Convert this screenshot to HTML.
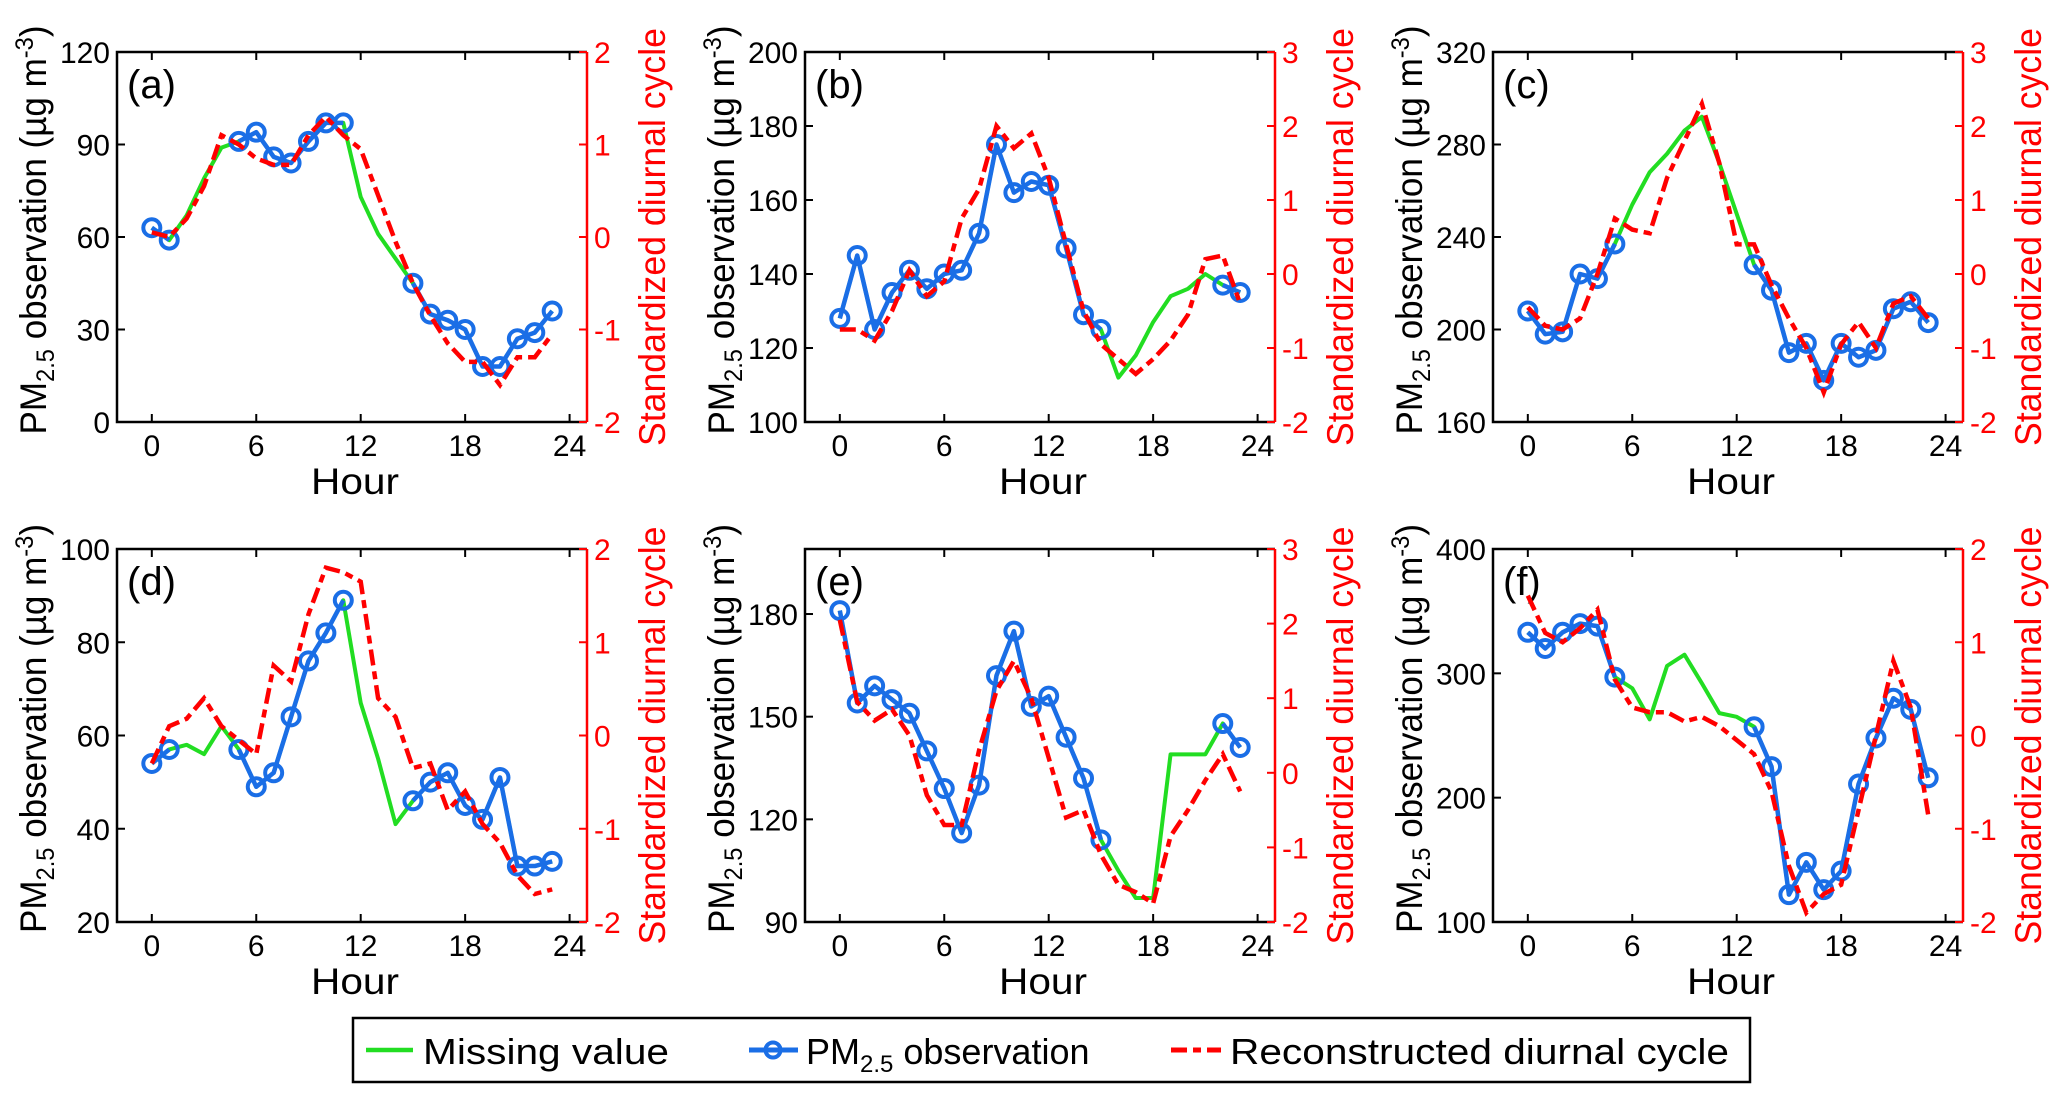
<!DOCTYPE html>
<html><head><meta charset="utf-8">
<style>
html,body{margin:0;padding:0;background:#fff;}
svg{display:block;font-family:"Liberation Sans",Arial,sans-serif;}
</style></head>
<body>
<svg id="fig" width="2067" height="1100" viewBox="0 0 2067 1100" xmlns="http://www.w3.org/2000/svg">
<rect width="2067" height="1100" fill="#fff"/>
<g>
<rect x="353" y="1018" width="1397" height="64" fill="#fff" stroke="#000" stroke-width="2.5"/>
<line x1="366" y1="1050" x2="413" y2="1050" stroke="#22dd22" stroke-width="4.5"/>
<text x="423" y="1064" font-size="36" textLength="246" lengthAdjust="spacingAndGlyphs">Missing value</text>
<line x1="749" y1="1050" x2="798" y2="1050" stroke="#1a6ee6" stroke-width="5"/>
<circle cx="773" cy="1050" r="7.5" fill="none" stroke="#1a6ee6" stroke-width="4"/>
<text x="806" y="1064" font-size="36">PM<tspan font-size="24" dy="8">2.5</tspan><tspan dy="-8"> observation</tspan></text>
<line x1="1171" y1="1050" x2="1221" y2="1050" stroke="#ff0000" stroke-width="5" stroke-dasharray="16 6 8 6"/>
<text x="1230" y="1064" font-size="36" textLength="499" lengthAdjust="spacingAndGlyphs">Reconstructed diurnal cycle</text>
</g>
</svg>
<script>
const hours = [0,1,2,3,4,5,6,7,8,9,10,11,12,13,14,15,16,17,18,19,20,21,22,23];
const xTicks = [0,6,12,18,24];
const N = null;

// (a)
const obsA = [63,59,N,N,N,91,94,86,84,91,97,97,N,N,N,45,35,33,30,18,18,27,29,36];
const fillA = [63,59,67,79,89,91,94,86,84,91,97,97,73,61,53,45,35,33,30,18,18,27,29,36];
const recA = [0.05,0,0.2,0.55,1.1,1.0,0.85,0.78,0.78,1.1,1.3,1.1,0.95,0.45,-0.05,-0.5,-0.85,-1.15,-1.35,-1.35,-1.6,-1.3,-1.3,-1.05];
const yTicksA = [0,30,60,90,120];
const rTicksA = [-2,-1,0,1,2];
// (b)
const obsB = [128,145,125,135,141,136,140,141,151,175,162,165,164,147,129,125,N,N,N,N,N,N,137,135];
const fillB = [128,145,125,135,141,136,140,141,151,175,162,165,164,147,129,125,112,118,127,134,136,140,137,135];
const recB = [-0.75,-0.75,-0.9,-0.5,0.05,-0.3,-0.1,0.75,1.15,2.0,1.7,1.9,1.3,0.4,-0.5,-0.95,-1.15,-1.35,-1.15,-0.9,-0.55,0.2,0.25,-0.4];
const yTicksB = [100,120,140,160,180,200];
const rTicksB = [-2,-1,0,1,2,3];
// (c)
const obsC = [208,198,199,224,222,237,N,N,N,N,N,N,N,228,217,190,194,178,194,188,191,209,212,203];
const fillC = [208,198,199,224,222,237,254,268,276,286,292,272,250,228,217,190,194,178,194,188,191,209,212,203];
const recC = [-0.45,-0.7,-0.75,-0.6,0.0,0.75,0.6,0.55,1.3,1.8,2.3,1.5,0.4,0.4,-0.15,-0.6,-1.0,-1.6,-0.95,-0.65,-1.0,-0.4,-0.3,-0.6];
const yTicksC = [160,200,240,280,320];
const rTicksC = [-2,-1,0,1,2,3];
// (d)
const obsD = [54,57,N,N,N,57,49,52,64,76,82,89,N,N,N,46,50,52,45,42,51,32,32,33];
const fillD = [54,57,58,56,62,57,49,52,64,76,82,89,67,55,41,46,50,52,45,42,51,32,32,33];
const recD = [-0.3,0.1,0.18,0.4,0.1,-0.05,-0.2,0.75,0.58,1.3,1.8,1.75,1.65,0.4,0.2,-0.35,-0.3,-0.8,-0.6,-0.95,-1.15,-1.5,-1.7,-1.65];
const yTicksD = [20,40,60,80,100];
const rTicksD = [-2,-1,0,1,2];
// (e)
const obsE = [181,154,159,155,151,140,129,116,130,162,175,153,156,144,132,114,N,N,N,N,N,N,148,141];
const fillE = [181,154,159,155,151,140,129,116,130,162,175,153,156,144,132,114,105,97,97,139,139,139,148,141];
const recE = [2.05,0.95,0.7,0.85,0.5,-0.3,-0.7,-0.7,0.3,1.1,1.5,1.0,0.2,-0.6,-0.5,-1.1,-1.5,-1.6,-1.75,-0.85,-0.5,-0.1,0.25,-0.25];
const yTicksE = [90,120,150,180];
const rTicksE = [-2,-1,0,1,2,3];
// (f)
const obsF = [333,320,333,340,338,297,N,N,N,N,N,N,N,257,225,122,148,126,141,211,248,280,271,216];
const fillF = [333,320,333,340,338,297,288,263,306,315,292,268,265,257,225,122,148,126,141,211,248,280,271,216];
const recF = [1.5,1.1,1.0,1.15,1.35,0.6,0.3,0.25,0.25,0.15,0.2,0.1,-0.05,-0.2,-0.6,-1.4,-1.9,-1.7,-1.6,-0.8,0.0,0.8,0.3,-0.85];
const yTicksF = [100,200,300,400];
const rTicksF = [-2,-1,0,1,2];

const panels = [
 {id:'a',L:117,T:52,H:370,y0:0,y1:120,r0:-2,r1:2,obs:obsA,fill:fillA,rec:recA,yt:yTicksA,rt:rTicksA},
 {id:'b',L:805,T:52,H:370,y0:100,y1:200,r0:-2,r1:3,obs:obsB,fill:fillB,rec:recB,yt:yTicksB,rt:rTicksB},
 {id:'c',L:1493,T:52,H:370,y0:160,y1:320,r0:-2,r1:3,obs:obsC,fill:fillC,rec:recC,yt:yTicksC,rt:rTicksC},
 {id:'d',L:117,T:549,H:373,y0:20,y1:100,r0:-2,r1:2,obs:obsD,fill:fillD,rec:recD,yt:yTicksD,rt:rTicksD},
 {id:'e',L:805,T:549,H:373,y0:90,y1:199,r0:-2,r1:3,obs:obsE,fill:fillE,rec:recE,yt:yTicksE,rt:rTicksE},
 {id:'f',L:1493,T:549,H:373,y0:100,y1:400,r0:-2,r1:2,obs:obsF,fill:fillF,rec:recF,yt:yTicksF,rt:rTicksF}
];
const W = 470, XMIN = -2, XMAX = 25;
const NS = 'http://www.w3.org/2000/svg';
const svg = document.getElementById('fig');
function mk(tag, attrs, parent){
  const e = document.createElementNS(NS, tag);
  for (const k in attrs) e.setAttribute(k, attrs[k]);
  parent.appendChild(e);
  return e;
}
const BLUE = '#1a6ee6', GREEN = '#22dd22', RED = '#ff0000';

panels.forEach(p => {
  const g = mk('g', {}, svg);
  
  
  const R = p.L + W, B = p.T + p.H;
  const sx = h => p.L + (h - XMIN) / (XMAX - XMIN) * W;
  const sy = v => B - (v - p.y0) / (p.y1 - p.y0) * p.H;
  const sr = v => B - (v - p.r0) / (p.r1 - p.r0) * p.H;

  mk('path', {d:`M${R},${p.T} H${p.L} V${B} H${R}`, fill:'none', stroke:'#000', 'stroke-width':2.5}, g);
  const rs = mk('line', {x1:R, y1:p.T, x2:R, y2:B, stroke:RED, 'stroke-width':2.5}, g);
  
  

  xTicks.forEach(t => {
    const x = sx(t);
    mk('line', {x1:x, y1:B, x2:x, y2:B-8, stroke:'#000', 'stroke-width':2}, g);
    mk('line', {x1:x, y1:p.T, x2:x, y2:p.T+8, stroke:'#000', 'stroke-width':2}, g);
    const tx = mk('text', {x:x, y:B+34, 'font-size':30, 'text-anchor':'middle'}, g);
    
    
    tx.textContent = t;
  });
  p.yt.forEach(t => {
    const y = sy(t);
    mk('line', {x1:p.L, y1:y, x2:p.L+8, y2:y, stroke:'#000', 'stroke-width':2}, g);
    const tx = mk('text', {x:p.L-7, y:y+11, 'font-size':30, 'text-anchor':'end'}, g);
    
    
    tx.textContent = t;
  });
  p.rt.forEach(t => {
    const y = sr(t);
    mk('line', {x1:R, y1:y, x2:R-8, y2:y, stroke:RED, 'stroke-width':2}, g);
    const tx = mk('text', {x:R+7, y:y+11, 'font-size':30, fill:RED}, g);
    
    
    tx.textContent = t;
  });
  const cy = p.T + p.H/2;
  const xt = mk('text', {x:p.L + W/2 + 3, y:B+72, 'font-size':37, 'text-anchor':'middle', textLength:88, lengthAdjust:'spacingAndGlyphs'}, g);
  
  
  xt.textContent = 'Hour';
  const ly = cy - 7;
  const yl = mk('text', {x:0, y:0, 'font-size':37, 'text-anchor':'middle', transform:`translate(${p.L-71},${ly}) rotate(-90)`, textLength:409, lengthAdjust:'spacingAndGlyphs'}, g);
  
  
  yl.innerHTML = 'PM<tspan font-size="25" dy="8">2.5</tspan><tspan dy="-8"> observation (µg m</tspan><tspan font-size="25" dy="-13">-3</tspan><tspan dy="13">)</tspan>';
  const rl = mk('text', {x:0, y:0, 'font-size':37, fill:RED, 'text-anchor':'middle', transform:`translate(${R+78},${cy}) rotate(-90)`, textLength:418, lengthAdjust:'spacingAndGlyphs'}, g);
  
  
  rl.textContent = 'Standardized diurnal cycle';
  const pl = mk('text', {x:p.L+10, y:p.T+46, 'font-size':40}, g);
  
  
  pl.textContent = '(' + p.id + ')';

  const gp = hours.map((h,i) => (i?'L':'M') + sx(h) + ',' + sy(p.fill[i])).join(' ');
  const gl = mk('path', {d:gp, fill:'none', stroke:GREEN, 'stroke-width':4, 'stroke-linejoin':'round'}, g);
  
  
  let d = '', pen = false;
  hours.forEach((h,i) => {
    const v = p.obs[i];
    if (v === null) { pen = false; return; }
    d += (pen ? 'L' : 'M') + sx(h) + ',' + sy(v) + ' ';
    pen = true;
  });
  const bl = mk('path', {d:d, fill:'none', stroke:BLUE, 'stroke-width':4.5, 'stroke-linejoin':'round'}, g);
  
  
  hours.forEach((h,i) => {
    const v = p.obs[i];
    if (v === null) return;
    const c = mk('circle', {cx:sx(h), cy:sy(v), r:8.5, fill:'none', stroke:BLUE, 'stroke-width':4}, g);
    
    
  });
  const rp = hours.map((h,i) => (i?'L':'M') + sx(h) + ',' + sr(p.rec[i])).join(' ');
  const rl2 = mk('path', {d:rp, fill:'none', stroke:RED, 'stroke-width':4.5, 'stroke-dasharray':'16 6 8 6'}, g);
  
  
});
</script>
</body></html>
